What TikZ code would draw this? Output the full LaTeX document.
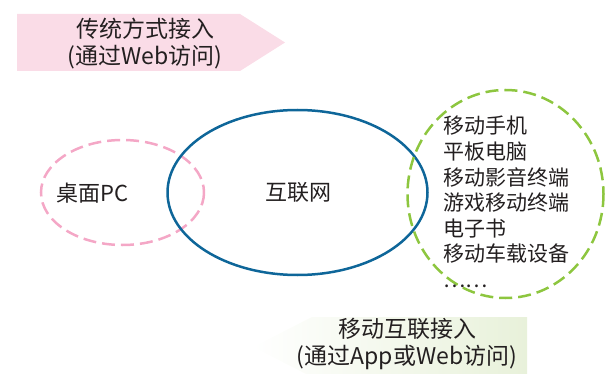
\documentclass[tikz,border=0pt]{standalone}
\usepackage{fontspec}
\setmainfont{Noto Sans CJK SC}
\definecolor{pinkfill}{HTML}{FADCE7}
\definecolor{pinkline}{HTML}{F4A7C6}
\definecolor{blueline}{HTML}{0E6699}
\definecolor{greenline}{HTML}{8DC63F}
\definecolor{greenfill}{HTML}{E8F1DA}
\definecolor{txt}{HTML}{231F20}
\begin{document}
\begin{tikzpicture}[x=1pt,y=-1pt,
  lbl/.style={text=txt,inner sep=0pt,align=center},
  dashring/.style={line width=2.5pt,dash pattern=on 13pt off 6pt}]
\useasboundingbox (0,0) rectangle (605,374);
\begin{scope}
\clip (0,0) rectangle (605,374);
% top arrow
\fill[pinkfill] (17,14) -- (240,14) -- (285,42.5) -- (240,71) -- (17,71) -- cycle;
\node[lbl,font=\fontsize{23}{27}\selectfont] (top) at (145,43.5) {传统方式接入\\(通过Web访问)};
% bottom arrow
\shade[left color=white,right color=greenfill] (253,347) -- (312,317) -- (527,317) -- (527,377) -- (312,377) -- cycle;
\node[lbl,font=\fontsize{23}{27}\selectfont] (bot) at (407,344) {移动互联接入\\(通过App或Web访问)};
% ellipses
\draw[pinkline,dashring] (122.5,192.5) ellipse [x radius=81.5,y radius=52.5];
\draw[blueline,line width=2.5pt] (297.5,192.5) ellipse [x radius=130,y radius=82.5];
\draw[greenline,dashring] (505.5,194) ellipse [x radius=98,y radius=104];
\end{scope}
\node[lbl,font=\fontsize{22}{25}\selectfont] (pc) at (92.5,193) {桌面PC};
\node[lbl,font=\fontsize{22}{25}\selectfont] (net) at (298,192) {互联网};
\node[lbl,align=left,anchor=north west,font=\fontsize{21}{25.6}\selectfont] (list) at (443,116)
  {移动手机\\平板电脑\\移动影音终端\\游戏移动终端\\电子书\\移动车载设备\\……};
\end{tikzpicture}
\end{document}
